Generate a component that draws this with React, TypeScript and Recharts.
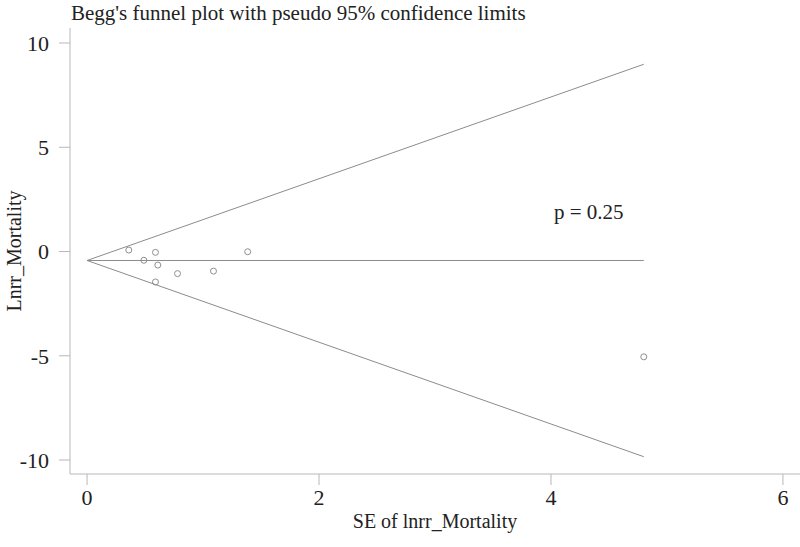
import { Scatter, ScatterChart, XAxis, YAxis } from "recharts"

// study estimates
const studySE = [0.36, 0.59, 1.385, 0.49, 0.61, 0.78, 1.09, 0.59, 4.8]
const studyLnrr = [0.07, -0.04, -0.01, -0.42, -0.65, -1.06, -0.94, -1.46, -5.05]

// pseudo 95% limits and pooled estimate
const funnelSE = [0, 4.8]
const pooledLine = [-0.43, -0.43]
const upperLimit = [-0.43, 8.98]
const lowerLimit = [-0.43, -9.84]

const xTicks = [0, 2, 4, 6]
const yTicks = [-10, -5, 0, 5, 10]

const FONT = "'Liberation Serif', 'Times New Roman', serif"
const AXIS = "#b8b8b8"
const LINE = "#8c8c8c"
const INK = "#222"

const toPts = (ys: number[]) => funnelSE.map((se, i) => ({ se, y: ys[i] }))
const studies = studySE.map((se, i) => ({ se, y: studyLnrr[i] }))

const Hollow = (p: any) => <circle cx={p.cx} cy={p.cy} r={3} fill="none" stroke="#8f8f8f" strokeWidth={1} />
const NoMark = () => <g />

export default function App() {
  return (
    <div style={{ position: "absolute", left: 0, top: 0, width: 800, height: 547, background: "#fff", fontFamily: FONT }}>
      <div style={{ position: "absolute", left: 71, top: 2, fontSize: 21, lineHeight: "22px", color: INK, whiteSpace: "nowrap" }}>
        Begg's funnel plot with pseudo 95% confidence limits
      </div>
      <ScatterChart width={800} height={547} margin={{ top: 28, right: 0, left: 0, bottom: 0 }}>
        <XAxis
          type="number"
          dataKey="se"
          domain={[-0.147, 6.147]}
          ticks={xTicks}
          height={73}
          tickSize={11}
          tickMargin={4}
          axisLine={{ stroke: AXIS }}
          tickLine={{ stroke: AXIS }}
          tick={{ fill: INK, fontSize: 22, fontFamily: FONT }}
          label={{ value: "SE of lnrr_Mortality", position: "insideBottom", offset: 19, fill: INK, fontSize: 20, fontFamily: FONT }}
        />
        <YAxis
          type="number"
          dataKey="y"
          domain={[-10.67, 10.72]}
          ticks={yTicks}
          width={70}
          tickSize={11}
          tickMargin={10}
          axisLine={{ stroke: AXIS }}
          tickLine={{ stroke: AXIS }}
          tick={{ fill: INK, fontSize: 22, fontFamily: FONT }}
          label={{
            value: "Lnrr_Mortality",
            angle: -90,
            position: "insideLeft",
            offset: 14,
            fill: INK,
            fontSize: 20,
            fontFamily: FONT,
            style: { textAnchor: "middle" },
          }}
        />
        <Scatter data={toPts(upperLimit)} line={{ stroke: LINE, strokeWidth: 1 }} shape={NoMark} isAnimationActive={false} />
        <Scatter data={toPts(pooledLine)} line={{ stroke: LINE, strokeWidth: 1 }} shape={NoMark} isAnimationActive={false} />
        <Scatter data={toPts(lowerLimit)} line={{ stroke: LINE, strokeWidth: 1 }} shape={NoMark} isAnimationActive={false} />
        <Scatter data={studies} shape={Hollow} isAnimationActive={false} />
      </ScatterChart>
      <div style={{ position: "absolute", left: 554, top: 202, fontSize: 21, lineHeight: "21px", color: INK, whiteSpace: "nowrap" }}>
        p = 0.25
      </div>
    </div>
  )
}
